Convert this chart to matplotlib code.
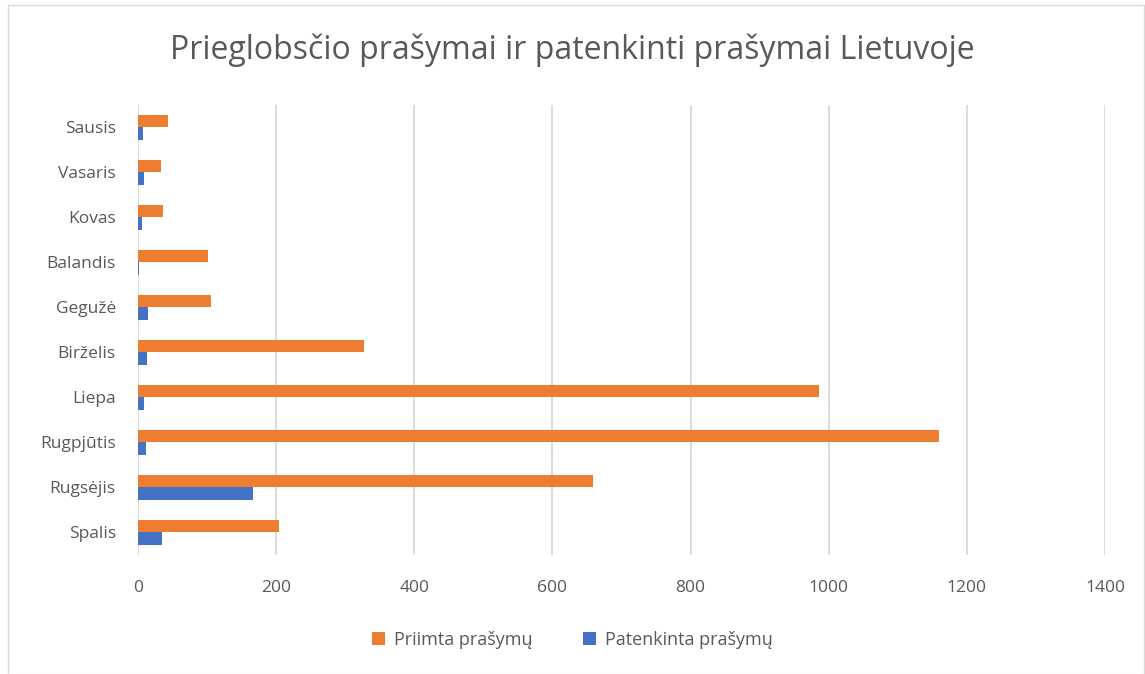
import matplotlib.pyplot as plt
import numpy as np

plt.rcParams['font.family'] = ['Open Sans', 'DejaVu Sans']

months = ['Sausis', 'Vasaris', 'Kovas', 'Balandis', 'Gegužė', 'Birželis',
          'Liepa', 'Rugpjūtis', 'Rugsėjis', 'Spalis']
priimta = [43, 34, 36, 102, 105, 327, 986, 1160, 659, 204]
patenkinta = [7, 8, 6, 2, 15, 13, 8, 12, 167, 35]

orange = '#ed7d31'
blue = '#4472c4'
grey = '#595959'

fig = plt.figure(figsize=(11.45, 6.74), dpi=100)
ax = fig.add_axes([138 / 1145, 1 - 555 / 674, (1105 - 138) / 1145, (555 - 105) / 674])

y = np.arange(len(months))
h = 0.27
ax.barh(y - h / 2, priimta, height=h, color=orange, label='Priimta prašymų', zorder=3)
ax.barh(y + h / 2, patenkinta, height=h, color=blue, label='Patenkinta prašymų', zorder=3)

ax.set_ylim(len(months) - 0.5, -0.5)
ax.set_yticks(y)
ax.set_yticklabels(months)
ax.set_xlim(0, 1400)
ax.set_xticks(range(0, 1401, 200))
ax.grid(axis='x', color='#d9d9d9', linewidth=1.3, zorder=0)
for s in ax.spines.values():
    s.set_visible(False)
ax.tick_params(length=0, labelsize=12.5, colors=grey)
ax.tick_params(axis='y', pad=16)
ax.tick_params(axis='x', pad=18)

fig.text(0.5, 1 - 50 / 674, 'Prieglobsčio prašymai ir patenkinti prašymai Lietuvoje',
         ha='center', va='center', fontsize=23, color=grey)

fig.legend(loc='center', bbox_to_anchor=(0.5, 1 - 640 / 674), ncol=2, frameon=False,
           fontsize=13, labelcolor=grey, handlelength=0.7, handleheight=0.7,
           columnspacing=2.8, handletextpad=0.5)

border = plt.Rectangle((8 / 1145, 0.0), 1 - 9 / 1145, 1 - 5 / 674, transform=fig.transFigure,
                       fill=False, edgecolor='#d9d9d9', linewidth=1)
fig.patches.append(border)

fig.savefig('out.png', dpi=100)
